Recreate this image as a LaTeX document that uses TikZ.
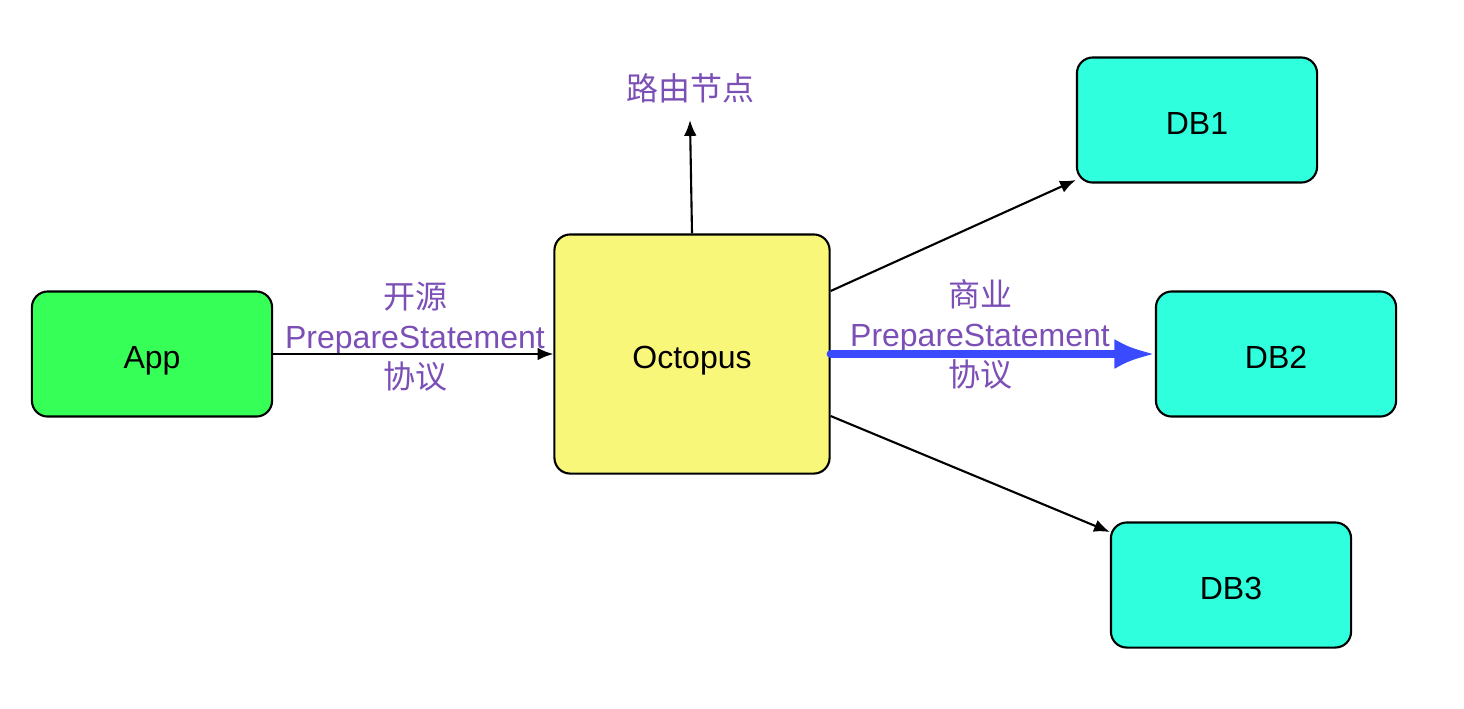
\documentclass[tikz,border=0pt]{standalone}
\usepackage{fontspec}
\setmainfont{Liberation Sans}
\newfontfamily\cjk{Noto Sans CJK SC}
\usetikzlibrary{arrows.meta}
\definecolor{appgreen}{RGB}{54,255,88}
\definecolor{dbcyan}{RGB}{47,255,221}
\definecolor{octoyellow}{RGB}{249,247,122}
\definecolor{labelpurple}{RGB}{123,79,181}
\definecolor{fastblue}{RGB}{58,75,255}

\begin{document}
\begin{tikzpicture}[x=0.01cm, y=-0.01cm, font=\fontsize{9.1}{11.4}\selectfont,
		box/.style={draw, line width=0.6pt, rounded corners=4.5pt, minimum width=2.4cm, minimum height=1.25cm, text height=8.2pt, text depth=0pt},
		label/.style={text=labelpurple, align=center, inner sep=0pt},
		link/.style={-{Latex[length=4.5pt, width=3.6pt]}, line width=0.6pt}]
		\useasboundingbox (0,0) rectangle (1464,708);
		\node [box, fill=appgreen](app)at (152,354) {App};
		\node [box, fill=octoyellow, minimum width=2.75cm, minimum height=2.39cm](octo)at (692,354) {Octopus};
		\node [box, fill=dbcyan](db1)at (1197,120) {DB1};
		\node [box, fill=dbcyan](db2)at (1276,354) {DB2};
		\node [box, fill=dbcyan](db3)at (1231,585) {DB3};
		\node [label](route)at (690,88) {\cjk 路由节点};
		\node [label](open)at (415,337) {{\cjk 开源}\\PrepareStatement\\{\cjk 协议}};
		\node [label](biz)at (980,334) {{\cjk 商业}\\PrepareStatement\\{\cjk 协议}};
		\draw [link](app)--(octo);
		\draw [link](octo.north)--(route.south |- 0,120);
		\draw [link](octo.east |- 0,291)--(db1.south west |- 0,180);
		\draw [link](octo.east |- 0,416)--(db3.north west |- 0,532);
		\draw [-{Latex[length=11.5pt, width=8.5pt]}, line width=2.3pt, line cap=round, fastblue](octo.east)--(db2.west);
	\end{tikzpicture}
\end{document}
